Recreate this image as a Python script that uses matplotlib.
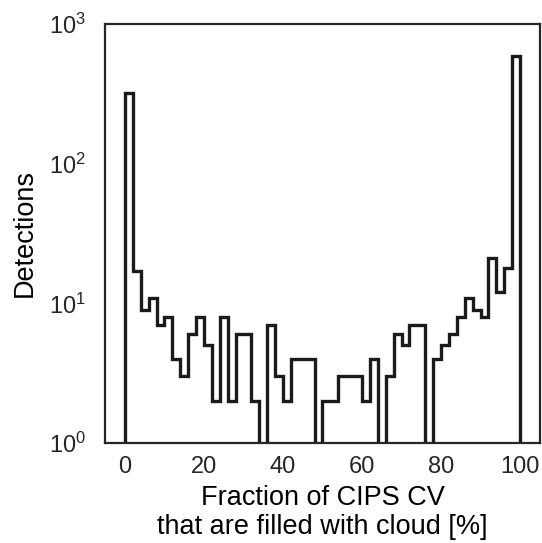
import numpy as np
import matplotlib
matplotlib.use("Agg")
import matplotlib.pyplot as plt

# bin edges: 50 bins of 2 % from 0 to 100
bin_edges = np.arange(0, 102, 2)
# detections per bin
counts = [320, 17, 9, 11, 7, 8, 4, 3, 6, 8,
          5, 2, 8, 2, 6, 6, 2, 0, 7, 3,
          2, 4, 4, 4, 0, 2, 2, 3, 3, 3,
          2, 4, 0, 3, 6, 5, 7, 7, 0, 4,
          5, 6, 8, 11, 9, 8, 21, 12, 18, 590]

plt.rcParams['font.family'] = ['Liberation Sans', 'DejaVu Sans']
plt.rcParams['axes.edgecolor'] = '#262626'
plt.rcParams['text.color'] = '#262626'
plt.rcParams['xtick.color'] = '#262626'
plt.rcParams['ytick.color'] = '#262626'

fig = plt.figure(figsize=(5.42, 5.43), dpi=100)
ax = fig.add_axes([0.194, 0.184, 0.802, 0.772])

ax.stairs(counts, bin_edges, baseline=0, color='#1a1a1a', linewidth=2.4)
ax.set_yscale('log')
ax.set_ylim(1, 1000)
ax.set_xlim(-5, 105)
ax.set_xticks([0, 20, 40, 60, 80, 100])
ax.minorticks_off()
ax.tick_params(axis='both', length=0, labelsize=17)
ax.tick_params(axis='y', pad=14)
ax.tick_params(axis='x', pad=9)
for sp in ax.spines.values():
    sp.set_linewidth(1.6)

ax.set_ylabel('Detections', fontsize=19.5, labelpad=8)
ax.set_xlabel('Fraction of CIPS CV\nthat are filled with cloud [%]', fontsize=19.5,
              linespacing=1.15, labelpad=5)

fig.savefig('out.png', dpi=100)
plt.close(fig)
